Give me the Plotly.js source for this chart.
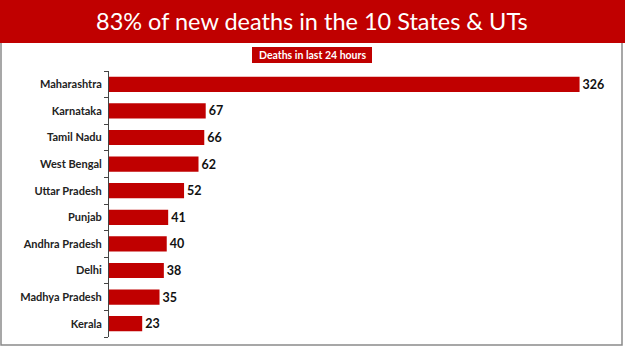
<!DOCTYPE html>
<html><head><meta charset="utf-8">
<script src="https://cdn.plot.ly/plotly-3.0.1.min.js"></script>
<style>html,body{margin:0;padding:0;background:#fff;}#chart{width:625px;height:351px;}</style>
</head><body><div id="chart"></div>
<script>
const states = ["Maharashtra","Karnataka","Tamil Nadu","West Bengal","Uttar Pradesh","Punjab","Andhra Pradesh","Delhi","Madhya Pradesh","Kerala"];
const deaths = [326,67,66,62,52,41,40,38,35,23];
const titleText = "83% of new deaths in the 10 States & UTs";
const subtitleText = "Deaths in last 24 hours";

const W = 625, H = 351;
const M = {l:109, r:18, t:71, b:14};
const pw = W - M.l - M.r, ph = H - M.t - M.b;
const px = x => (x - M.l) / pw;
const py = y => (H - M.b - y) / ph;
const red = "#C00000";

const trace = {
  type: "bar", orientation: "h",
  y: states.slice().reverse(), x: deaths.slice().reverse(),
  marker: {color: red},
  text: deaths.slice().reverse().map(String),
  textposition: "outside", cliponaxis: false,
  textfont: {family: "Lato, 'Open Sans', sans-serif", size: 12.5, color: "#111", weight: 700},
  hoverinfo: "none"
};

const layout = {
  width: W, height: H, margin: M,
  paper_bgcolor: "#fff", plot_bgcolor: "#fff",
  showlegend: false, bargap: 0.43,
  font: {family: "Lato, 'Open Sans', sans-serif"},
  xaxis: {range: [0, 345], visible: false, fixedrange: true},
  yaxis: {
    type: "category", showline: true, linecolor: "#444", linewidth: 1,
    ticks: "outside", tickson: "boundaries", ticklen: 4, tickcolor: "#444",
    ticklabelstandoff: 4,
    tickfont: {family: "Lato, 'Open Sans', sans-serif", size: 11, color: "#222", weight: 700},
    showgrid: false, zeroline: false, fixedrange: true
  },
  shapes: [
    {type:"rect", xref:"paper", yref:"paper", x0:px(1), x1:px(622), y0:py(0), y1:py(345),
     line:{color:"#8a8a8a", width:1.5}, fillcolor:"rgba(0,0,0,0)", layer:"below"},
    {type:"rect", xref:"paper", yref:"paper", x0:px(0), x1:px(625), y0:py(43), y1:py(0),
     line:{width:0}, fillcolor:red, layer:"above"},
    {type:"rect", xref:"paper", yref:"paper", x0:px(252), x1:px(372), y0:py(63), y1:py(47),
     line:{width:0}, fillcolor:red, layer:"above"}
  ],
  annotations: [
    {text: titleText, xref:"paper", yref:"paper", x:px(312), y:py(21), xanchor:"center", yanchor:"middle",
     showarrow:false, font:{family:"Lato, 'Open Sans', sans-serif", size:23.5, color:"#fff"}},
    {text: subtitleText, xref:"paper", yref:"paper", x:px(312), y:py(55), xanchor:"center", yanchor:"middle",
     showarrow:false, font:{family:"Lato, 'Open Sans', sans-serif", size:10.5, color:"#fff", weight:700}}
  ]
};
Plotly.newPlot("chart", [trace], layout, {displayModeBar:false, staticPlot:true});
</script></body></html>
